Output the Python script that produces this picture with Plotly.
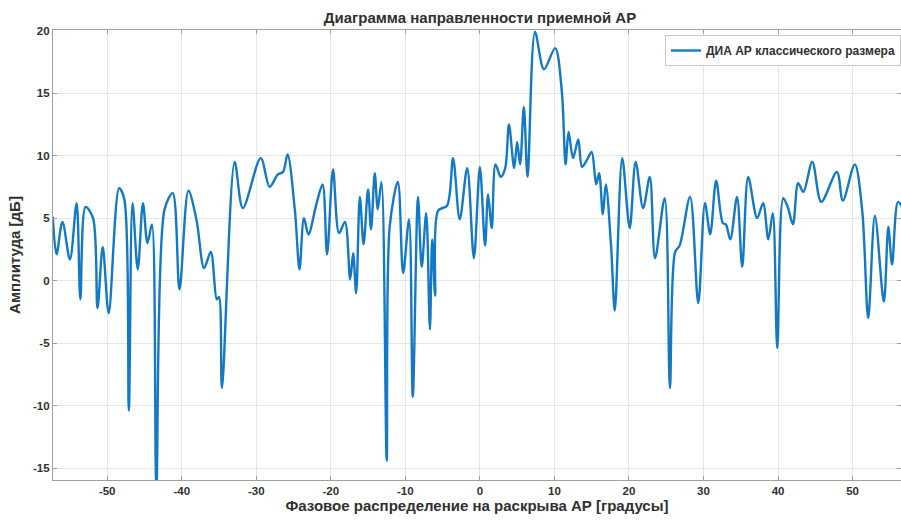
import plotly.graph_objects as go

# Phase distribution across aperture [degrees]
phase_deg = [
    -57.3, -56.8, -56.0, -55.0, -54.1, -53.6, -52.9, -51.9, -51.3, -50.6,
    -49.8, -48.4, -47.7, -47.1, -46.6, -45.9, -45.2, -44.6, -44.0, -43.4,
    -42.3, -41.2, -40.3, -39.1, -38.0, -37.0, -36.1, -35.3, -35.0, -34.6,
    -32.9, -31.8, -29.4, -28.2, -27.1, -26.4, -25.8, -24.8, -24.2, -23.6,
    -23.0, -21.9, -21.1, -20.5, -19.7, -18.9, -18.1, -17.4, -17.0, -16.6,
    -16.1, -15.6, -15.0, -14.6, -14.1, -13.7, -13.2, -12.5, -12.1, -11.0,
    -10.3, -9.5, -9.0, -8.3, -7.8, -7.2, -6.7, -6.4, -6.0, -5.6,
    -4.4, -3.6, -2.7, -1.7, -0.8, 0.0, 0.7, 1.1, 1.6, 2.1,
    2.8, 3.4, 3.9, 4.6, 5.0, 5.4, 5.9, 6.4, 7.4, 8.6,
    10.1, 11.0, 11.5, 11.9, 12.5, 13.2, 13.7, 14.4, 15.0, 15.6,
    16.0, 16.5, 16.9, 17.6, 18.1, 19.1, 20.1, 20.9, 21.9, 22.8,
    23.5, 24.8, 25.5, 26.2, 26.8, 28.2, 29.3, 30.2, 30.9, 31.7,
    32.6, 33.0, 33.6, 34.5, 35.2, 36.0, 37.2, 38.0, 38.7, 39.3,
    39.9, 40.7, 41.3, 42.0, 42.7, 43.4, 44.6, 45.8, 47.9, 48.7,
    50.3, 51.3, 52.1, 53.0, 54.2, 54.8, 55.3, 56.1, 56.8,
]

# Amplitude [dB]
amplitude_db = [
    5.1, 2.1, 4.7, 1.7, 6.2, -1.5, 5.9, 5.0, -2.2, 2.7,
    -2.6, 7.4, 6.5, -10.4, 6.2, 0.9, 6.2, 3.0, 4.5, -16.2,
    5.7, 7.0, -0.7, 7.2, 4.8, 1.0, 2.3, -1.5, -1.3, -8.6,
    9.5, 5.8, 9.8, 7.5, 8.5, 8.7, 10.1, 5.5, 0.9, 5.0,
    3.7, 6.2, 7.7, 2.1, 8.9, 3.8, 4.7, 0.1, 2.2, -1.0,
    6.7, 2.9, 7.3, 4.1, 8.6, 5.7, 7.9, -14.4, 4.3, 7.9,
    0.6, 4.9, -9.3, 6.7, 1.1, 5.4, -3.9, 3.3, -1.2, 5.6,
    6.0, 9.8, 4.9, 9.0, 1.8, 9.1, 2.8, 6.9, 4.2, 9.3,
    8.3, 9.0, 12.5, 9.0, 11.1, 9.3, 13.9, 8.3, 19.9, 16.9,
    18.6, 15.1, 9.3, 11.9, 9.8, 11.3, 9.1, 9.7, 10.3, 7.7,
    8.6, 5.3, 7.7, 2.8, -2.4, 9.8, 4.2, 9.5, 5.8, 8.3,
    1.8, 6.6, -8.6, 2.3, 2.8, 6.7, -1.8, 6.2, 3.7, 8.0,
    4.6, 4.5, 3.3, 6.7, 1.1, 8.3, 5.0, 6.2, 3.3, 5.4,
    -5.4, 6.6, 5.9, 4.5, 7.8, 7.1, 9.5, 6.3, 8.7, 6.4,
    9.3, 5.6, -3.0, 5.2, -1.7, 4.3, 1.3, 6.3, 5.7,
]

x_ticks = [-50, -40, -30, -20, -10, 0, 10, 20, 30, 40, 50]
x_tick_labels = ["-50", "-40", "-30", "-20", "-10", "0", "10", "20", "30", "40", "50"]
y_ticks = [-15, -10, -5, 0, 5, 10, 15, 20]
y_tick_labels = ["-15", "-10", "-5", "0", "5", "10", "15", "20"]

title_text = "Диаграмма направленности приемной АР"
x_label = "Фазовое распределение на раскрыва АР [градусы]"
y_label = "Амплитуда [дБ]"
series_name = "ДИА АР классического размера"

FONT = "Liberation Sans, Arial, sans-serif"
TXT = "#303030"

fig = go.Figure()
fig.add_trace(go.Scatter(
    x=phase_deg, y=amplitude_db, mode="lines", name=series_name,
    line=dict(color="#1479C4", width=2.4, shape="spline", smoothing=0.9),
))

axis_common = dict(
    showgrid=True, gridcolor="#e6e6e6", gridwidth=1,
    showline=True, linecolor="#a0a0a0", linewidth=1.2,
    ticks="inside", ticklen=4, tickcolor="#a0a0a0",
    mirror="ticks", zeroline=False,
    tickfont=dict(family=FONT, size=11.5, color=TXT, weight="bold"),
)

fig.update_layout(
    width=901, height=522,
    margin=dict(l=53, r=0, t=30, b=42, autoexpand=False),
    paper_bgcolor="white", plot_bgcolor="white",
    title=dict(
        text=title_text, x=0.5035, xref="paper", xanchor="center",
        y=1 - 18 / 522, yref="container", yanchor="middle",
        font=dict(family=FONT, size=15, color=TXT, weight="bold"),
    ),
    xaxis=dict(
        range=[-57.27, 56.5], tickvals=x_ticks, ticktext=x_tick_labels,
        title=dict(text=x_label, standoff=2,
                   font=dict(family=FONT, size=15, color=TXT, weight="bold")),
        **axis_common,
    ),
    yaxis=dict(
        range=[-15.95, 20.05], tickvals=y_ticks, ticktext=y_tick_labels,
        title=dict(text=y_label, standoff=8,
                   font=dict(family=FONT, size=15, color=TXT, weight="bold")),
        **axis_common,
    ),
    showlegend=True,
    legend=dict(
        x=(665 - 53) / 848, y=(479.5 - 35) / 449.5, xanchor="left", yanchor="top",
        bgcolor="white", bordercolor="#c8c8c8", borderwidth=1,
        font=dict(family=FONT, size=12, color=TXT, weight="bold"),
        itemwidth=30, tracegroupgap=0,
    ),
)

fig.write_html("out.html")
